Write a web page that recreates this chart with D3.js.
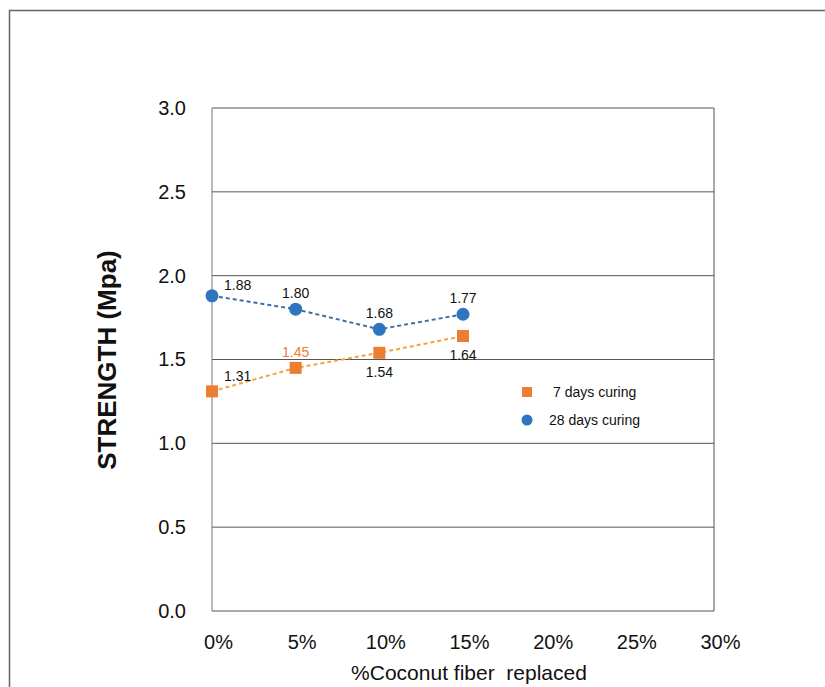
<!DOCTYPE html>
<html><head><meta charset="utf-8">
<script src="https://cdn.jsdelivr.net/npm/d3@7"></script>
<style>body{margin:0;background:#fff}svg{display:block}text{font-family:"Liberation Sans",Arial,sans-serif}</style>
</head><body><svg id="c" width="825" height="687"></svg>
<script>
const xCategories = [0, 5, 10, 15];
const xTicks = [0, 5, 10, 15, 20, 25, 30];
const yTicks = [0, 0.5, 1.0, 1.5, 2.0, 2.5, 3.0];
const days7 = [1.31, 1.45, 1.54, 1.64];
const days28 = [1.88, 1.80, 1.68, 1.77];
const seriesNames = ["7 days curing", "28 days curing"];

const svg = d3.select("#c");
const L = 212, R = 714, T = 108, B = 611;
const x = d3.scaleLinear().domain([0, 30]).range([L, R]);
const y = d3.scaleLinear().domain([0, 3]).range([B, T]);

// outer frame
svg.append("path").attr("d", "M9.5,687 L9.5,10.5 L825,10.5").attr("fill","none").attr("stroke","#666").attr("stroke-width",1.5);

// grid
svg.append("g").selectAll("line").data(yTicks).join("line")
  .attr("x1", L).attr("x2", R).attr("y1", d => y(d)).attr("y2", d => y(d))
  .attr("stroke", "#555").attr("stroke-width", 1);
svg.append("line").attr("x1", L).attr("x2", L).attr("y1", T).attr("y2", B).attr("stroke","#777");
svg.append("line").attr("x1", R).attr("x2", R).attr("y1", T).attr("y2", B).attr("stroke","#555");

// y tick labels
const yAxis = d3.axisLeft(y).tickValues(yTicks).tickFormat(d3.format(".1f")).tickSize(0).tickPadding(26);
const ya = svg.append("g").attr("transform", `translate(${L},0)`).call(yAxis);
ya.select(".domain").remove();
ya.selectAll("text").attr("font-size", 20).attr("fill", "#111").attr("font-family", "Liberation Sans, Arial, sans-serif");

// x tick labels
const xAxis = d3.axisBottom(x).tickValues(xTicks).tickFormat(d => d + "%").tickSize(0).tickPadding(24);
const xa = svg.append("g").attr("transform", `translate(6,${B})`).call(xAxis);
xa.select(".domain").remove();
xa.selectAll("text").attr("font-size", 20).attr("fill", "#111").attr("font-family", "Liberation Sans, Arial, sans-serif");

// titles
svg.append("text").attr("transform", "translate(116,360) rotate(-90)").attr("text-anchor","middle")
  .attr("font-size", 26).attr("font-weight","bold").attr("fill","#111").text("STRENGTH (Mpa)");
svg.append("text").attr("x", 469).attr("y", 680).attr("text-anchor","middle")
  .attr("font-size", 21).attr("fill","#111").attr("xml:space","preserve").text("%Coconut fiber  replaced");

const line = d3.line().x((d,i) => x(xCategories[i])).y(d => y(d));
svg.append("path").datum(days7).attr("d", line).attr("fill","none")
  .attr("stroke","#EFA540").attr("stroke-width",2).attr("stroke-dasharray","4,3");
svg.append("path").datum(days28).attr("d", line).attr("fill","none")
  .attr("stroke","#3A6FA8").attr("stroke-width",2).attr("stroke-dasharray","4,3");

svg.append("g").selectAll("rect").data(days7).join("rect")
  .attr("x",(d,i)=>x(xCategories[i])-6).attr("y",d=>y(d)-6).attr("width",12).attr("height",12).attr("fill","#ED7D31");
svg.append("g").selectAll("circle").data(days28).join("circle")
  .attr("cx",(d,i)=>x(xCategories[i])).attr("cy",d=>y(d)).attr("r",6.5).attr("fill","#2E75C0");

// data labels
const f = d3.format(".2f");
const lab28 = [[12,-6,"start"],[0,-11,"middle"],[0,-11,"middle"],[0,-11,"middle"]];
svg.append("g").selectAll("text").data(days28).join("text")
  .attr("x",(d,i)=>x(xCategories[i])+lab28[i][0]).attr("y",(d,i)=>y(d)+lab28[i][1])
  .attr("text-anchor",(d,i)=>lab28[i][2]).attr("font-size",14).attr("fill","#111").text(d=>f(d));
const lab7 = [[12,-10,"start","#111"],[0,-11,"middle","#ED7D31"],[0,24,"middle","#111"],[0,24,"middle","#111"]];
svg.append("g").selectAll("text").data(days7).join("text")
  .attr("x",(d,i)=>x(xCategories[i])+lab7[i][0]).attr("y",(d,i)=>y(d)+lab7[i][1])
  .attr("text-anchor",(d,i)=>lab7[i][2]).attr("font-size",14).attr("fill",(d,i)=>lab7[i][3]).text(d=>f(d));

// legend
const lg = svg.append("g");
lg.append("rect").attr("x",522).attr("y",387).attr("width",10).attr("height",10).attr("fill","#ED7D31");
lg.append("text").attr("x",553).attr("y",397).attr("font-size",14).attr("fill","#111").text(seriesNames[0]);
lg.append("circle").attr("cx",527).attr("cy",420).attr("r",5.5).attr("fill","#2E75C0");
lg.append("text").attr("x",549).attr("y",425).attr("font-size",14).attr("fill","#111").text(seriesNames[1]);
</script></body></html>
